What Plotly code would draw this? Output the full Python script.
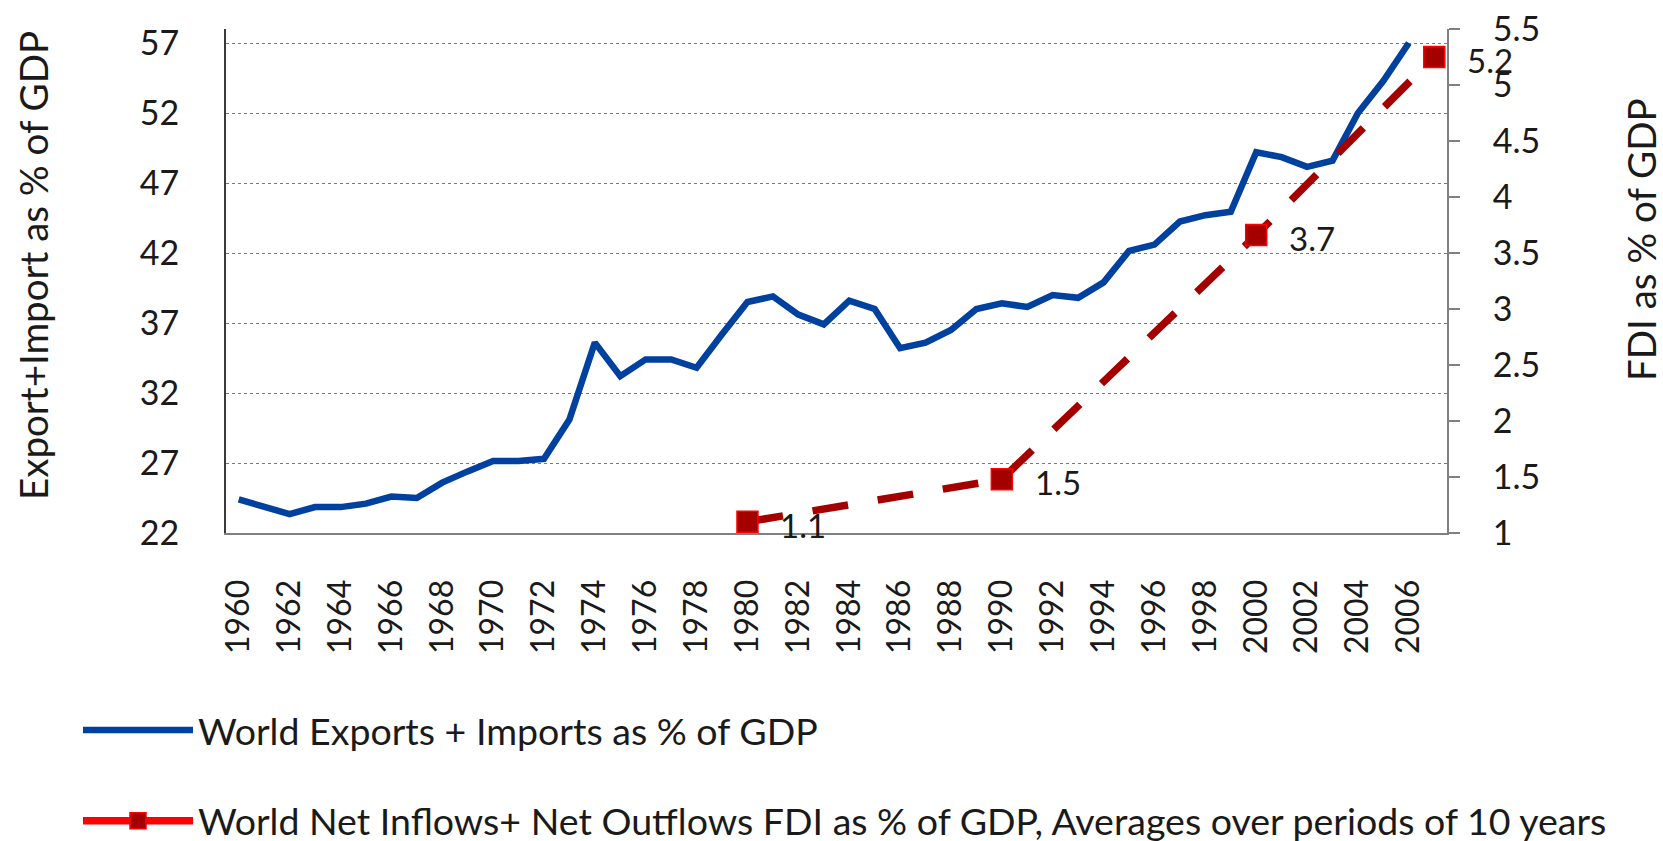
import plotly.graph_objects as go

# ---- data ----
years = list(range(1960, 2007))
trade_pct_gdp = [24.4, 23.9, 23.35, 23.85, 23.85, 24.1, 24.6, 24.5, 25.6, 26.4,
                 27.15, 27.15, 27.3, 30.1, 35.6, 33.2, 34.4, 34.4, 33.8, 36.2,
                 38.5, 38.9, 37.6, 36.9, 38.6, 38.0, 35.2, 35.6, 36.5, 38.0,
                 38.4, 38.15, 39.0, 38.8, 39.9, 42.15, 42.6, 44.25, 44.7, 44.95,
                 49.2, 48.85, 48.15, 48.6, 52.0, 54.3, 57.0]

fdi_years = [1980, 1990, 2000, 2007]
fdi_pct_gdp = [1.1, 1.48, 3.66, 5.25]
fdi_labels = ["1.1", "1.5", "3.7", "5.2"]

x_tick_years = list(range(1960, 2007, 2))
x_tick_labels = [str(y) for y in x_tick_years]
left_ticks = [22, 27, 32, 37, 42, 47, 52, 57]
right_ticks = [1, 1.5, 2, 2.5, 3, 3.5, 4, 4.5, 5, 5.5]
right_tick_labels = ["1", "1.5", "2", "2.5", "3", "3.5", "4", "4.5", "5", "5.5"]

name_trade = "World Exports + Imports as % of GDP"
name_fdi = "World Net Inflows+ Net Outflows FDI as % of GDP, Averages over periods of 10 years"

FONT = "Lato"
TXT = "#1a1a1a"
BLUE = "#0041A0"
DARKRED = "#A50000"

L, R, T, B = 226, 216, 29, 308
W, H = 1663, 841
pw, ph = W - L - R, H - T - B


def px_x(p):
    return (p - L) / pw


def px_y(p):
    return (H - B - p) / ph


fig = go.Figure()

fig.add_trace(go.Scatter(
    x=years, y=trade_pct_gdp, mode="lines", name=name_trade,
    line=dict(color=BLUE, width=6.5), legendgroup="a", yaxis="y",
))

fig.add_trace(go.Scatter(
    x=fdi_years, y=fdi_pct_gdp, mode="lines+markers", name=name_fdi,
    line=dict(color=DARKRED, width=7.5, dash="36px,30px"),
    marker=dict(symbol="square", size=21, color=DARKRED, line=dict(color="#FF0000", width=1.5)),
    yaxis="y2", showlegend=False, legendgroup="b",
))
# legend proxy (solid red line with dark marker, as in the original legend)
fig.add_trace(go.Scatter(
    x=[None], y=[None], mode="lines+markers", name=name_fdi,
    line=dict(color="#FF0000", width=7.5),
    marker=dict(symbol="square", size=21, color=DARKRED, line=dict(color="#FF0000", width=1.5)),
    yaxis="y2", legendgroup="b",
))

annotations = []
for xv, yv, lab in zip(fdi_years, fdi_pct_gdp, fdi_labels):
    annotations.append(dict(
        x=xv, y=yv, xref="x", yref="y2", text=lab, showarrow=False,
        xanchor="left", yanchor="middle", xshift=31, yshift=-3,
        font=dict(family=FONT, size=33, color=TXT),
    ))

annotations.append(dict(
    x=px_x(33), y=px_y(266), xref="paper", yref="paper", text="Export+Import as % of GDP",
    showarrow=False, textangle=-90, xanchor="center", yanchor="middle",
    font=dict(family=FONT, size=38.5, color=TXT),
))
annotations.append(dict(
    x=px_x(1641), y=px_y(240), xref="paper", yref="paper", text="FDI as % of GDP",
    showarrow=False, textangle=-90, xanchor="center", yanchor="middle",
    font=dict(family=FONT, size=38.5, color=TXT),
))

fig.update_layout(
    width=W, height=H,
    margin=dict(l=L, r=R, t=T, b=B, pad=0, autoexpand=False),
    paper_bgcolor="white", plot_bgcolor="white",
    font=dict(family=FONT, color=TXT),
    xaxis=dict(
        range=[1959.5, 2007.5], tickmode="array", tickvals=x_tick_years, ticktext=x_tick_labels,
        tickangle=-90, tickfont=dict(family=FONT, size=32, color=TXT),
        showgrid=False, zeroline=False, showline=True, linecolor="#808080", linewidth=2,
        ticks="", ticklabelstandoff=32, automargin=False,
    ),
    yaxis=dict(
        range=[22, 58], tickmode="array", tickvals=left_ticks,
        tickfont=dict(family=FONT, size=34, color=TXT),
        showgrid=True, gridcolor="#7a7a7a", gridwidth=1, griddash="dot",
        zeroline=False, showline=True, linecolor="#3a3a3a", linewidth=2,
        ticks="", ticklabelstandoff=38, automargin=False,
    ),
    yaxis2=dict(
        range=[1, 5.5], tickmode="array", tickvals=right_ticks, ticktext=right_tick_labels,
        overlaying="y", side="right",
        tickfont=dict(family=FONT, size=34, color=TXT),
        showgrid=False, zeroline=False, showline=True, linecolor="#808080", linewidth=2,
        ticks="outside", ticklen=11, tickwidth=2, tickcolor="#808080", ticklabelstandoff=26,
        automargin=False,
    ),
    legend=dict(
        orientation="v", x=px_x(78), xanchor="left", y=px_y(699), yanchor="top",
        font=dict(family=FONT, size=37.5, color=TXT), itemwidth=110, tracegroupgap=39,
        bgcolor="rgba(0,0,0,0)", itemsizing="trace",
    ),
    annotations=annotations,
)

fig.write_html(
    "out.html",
    config={"displayModeBar": False},
    post_script="document.body.style.margin='0';document.body.style.padding='0';document.body.style.overflow='hidden';",
)
